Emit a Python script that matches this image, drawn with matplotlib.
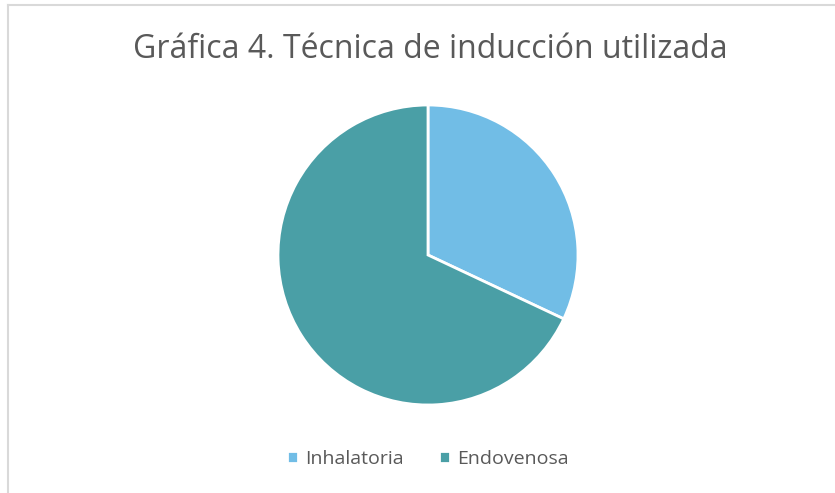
import matplotlib.pyplot as plt
from matplotlib.lines import Line2D

labels = ['Inhalatoria', 'Endovenosa']
values = [32, 68]
colors = ['#71bde6', '#4a9fa6']

plt.rcParams['font.family'] = ['Open Sans', 'DejaVu Sans']

fig = plt.figure(figsize=(8.35, 4.93), dpi=100)

# light gray chart border (only top and left edges show in the reference)
x0, y0 = 8 / 835, 1 - 5 / 493
fig.add_artist(Line2D([x0, 1], [y0, y0], color='#d9d9d9', linewidth=1.5))
fig.add_artist(Line2D([x0, x0], [0, y0], color='#d9d9d9', linewidth=1.5))

fig.text(430 / 835, 1 - 50 / 493, 'Gráfica 4. Técnica de inducción utilizada',
         ha='center', va='center', fontsize=23, color='#595959')

ax = fig.add_axes([278 / 835, 88 / 493, 300 / 835, 300 / 493])
wedges, _ = ax.pie(values, colors=colors, startangle=90, counterclock=False,
                   wedgeprops=dict(edgecolor='white', linewidth=2))
ax.set_xlim(-1, 1)
ax.set_ylim(-1, 1)
ax.set_aspect('equal')

fig.legend(wedges, labels, loc='center', bbox_to_anchor=(428 / 835, 1 - 459 / 493),
           ncol=2, frameon=False, fontsize=14, labelcolor='#595959',
           handlelength=0.55, handleheight=0.55, handletextpad=0.4,
           columnspacing=1.8)

fig.savefig('out.png', dpi=100)
